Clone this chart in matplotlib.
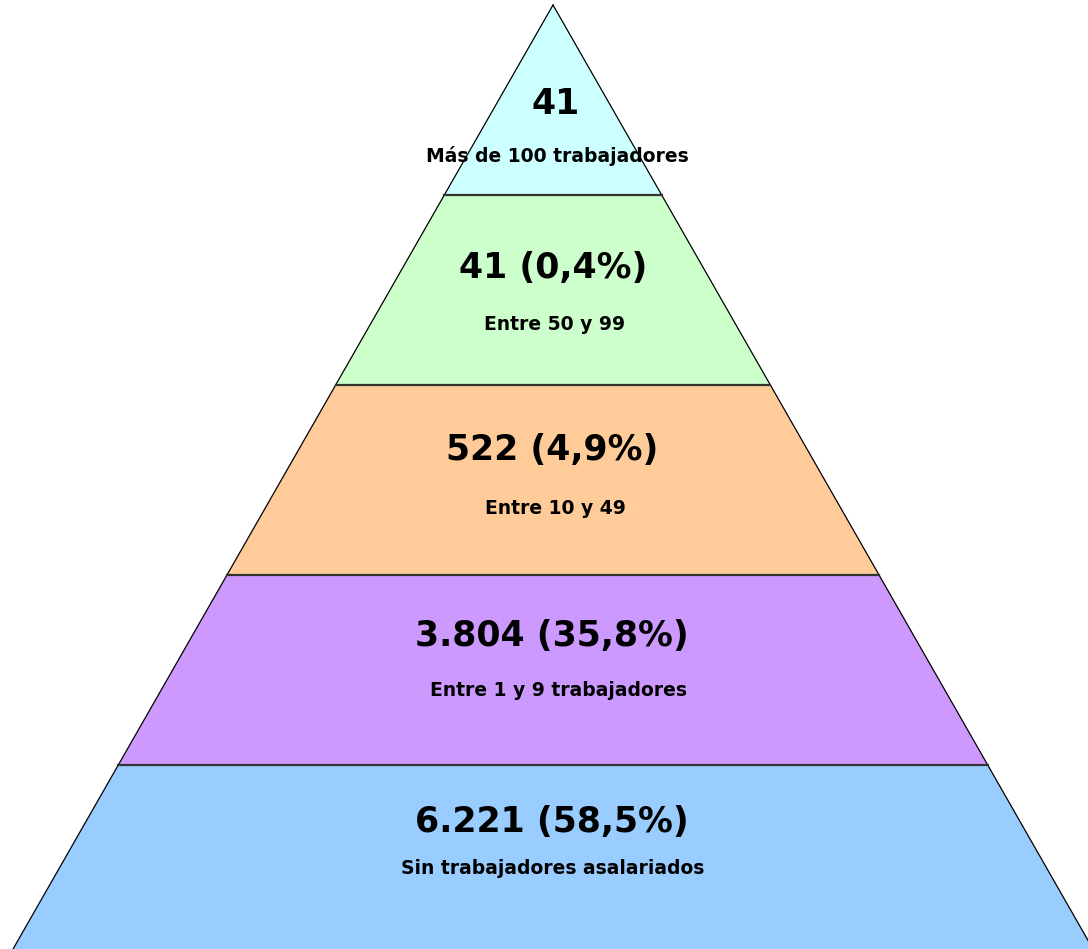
import matplotlib
matplotlib.use("Agg")
import matplotlib.pyplot as plt
from matplotlib.patches import Polygon

# Data (top of pyramid first)
values = ["41", "41 (0,4%)", "522 (4,9%)", "3.804 (35,8%)", "6.221 (58,5%)"]
labels = ["Más de 100 trabajadores", "Entre 50 y 99", "Entre 10 y 49",
          "Entre 1 y 9 trabajadores", "Sin trabajadores asalariados"]
colors = ["#CCFFFF", "#CCFFCC", "#FFCC99", "#CC99FF", "#99CCFF"]

W, H = 1088, 949
fig = plt.figure(figsize=(W / 100, H / 100), dpi=100)
ax = fig.add_axes([0, 0, 1, 1])
ax.set_xlim(0, W)
ax.set_ylim(H, 0)
ax.axis("off")

apex_x, apex_y = 553, 5
band_h = 190
slope = 0.572  # half-width per unit of depth
val_off = [99, 73, 65, 61, 57]
lab_off = [151, 129, 123, 115, 103]
val_dx = [3, 0, -1, -1, -1]
lab_dx = [4, 2, 2, 6, 0]

n = len(values)
for i in range(n):
    y0 = apex_y + i * band_h
    y1 = apex_y + (i + 1) * band_h
    hw0 = (y0 - apex_y) * slope
    hw1 = (y1 - apex_y) * slope
    poly = Polygon([(apex_x - hw0, y0), (apex_x + hw0, y0),
                    (apex_x + hw1, y1), (apex_x - hw1, y1)],
                   closed=True, facecolor=colors[i], edgecolor="none")
    ax.add_patch(poly)
    # sides
    ax.plot([apex_x - hw0, apex_x - hw1], [y0, y1], color="black", lw=0.9)
    ax.plot([apex_x + hw0, apex_x + hw1], [y0, y1], color="black", lw=0.9)
    if i > 0:
        ax.plot([apex_x - hw0, apex_x + hw0], [y0, y0], color="#333333", lw=1.6)
    ax.text(apex_x + val_dx[i], y0 + val_off[i], values[i], ha="center", va="center",
            fontsize=25, fontweight="bold", color="black", family="DejaVu Sans")
    ax.text(apex_x + lab_dx[i], y0 + lab_off[i], labels[i], ha="center", va="center",
            fontsize=13.5, fontweight="bold", color="black", family="DejaVu Sans")

fig.savefig("out.png", dpi=100, facecolor="white")
